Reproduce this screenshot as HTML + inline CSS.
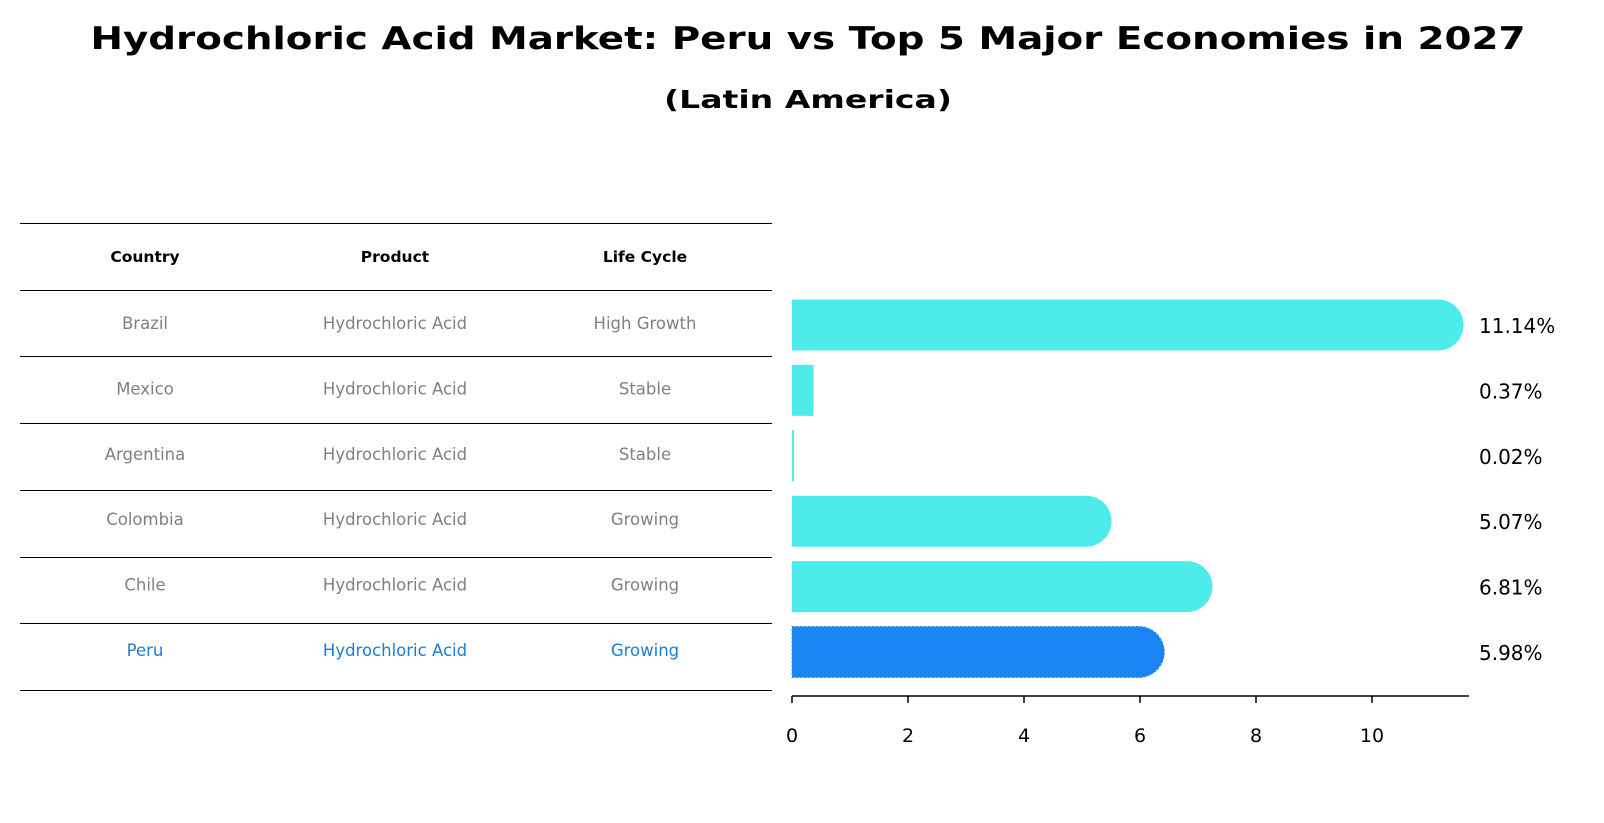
<!DOCTYPE html>
<html><head><meta charset="utf-8"><style>
html,body{margin:0;padding:0;background:#fff;}
svg{display:block;font-family:"DejaVu Sans","Liberation Sans",sans-serif;}
</style></head><body>
<svg id="chart" width="1604" height="823" viewBox="0 0 1604 823">
<text x="808" y="49" text-anchor="middle" font-size="31" font-weight="bold" textLength="1435" lengthAdjust="spacingAndGlyphs">Hydrochloric Acid Market: Peru vs Top 5 Major Economies in 2027</text>
<text x="808" y="108" text-anchor="middle" font-size="25" font-weight="bold" textLength="288" lengthAdjust="spacingAndGlyphs">(Latin America)</text>
<g id="table"></g>
<g id="bars"></g>
<g id="axis"></g>
</svg>
<script>
const countries = ["Brazil","Mexico","Argentina","Colombia","Chile","Peru"];
const products = ["Hydrochloric Acid","Hydrochloric Acid","Hydrochloric Acid","Hydrochloric Acid","Hydrochloric Acid","Hydrochloric Acid"];
const lifeCycles = ["High Growth","Stable","Stable","Growing","Growing","Growing"];
const values = [11.14,0.37,0.02,5.07,6.81,5.98];
const ticks = [0,2,4,6,8,10];

const NS="http://www.w3.org/2000/svg";
function mk(tag,attrs,parent){const e=document.createElementNS(NS,tag);for(const k in attrs)e.setAttribute(k,attrs[k]);parent.appendChild(e);return e;}
const x0=792, unit=58.0;
function xs(v){return x0+v*unit;}
const rowY0=325, rowStep=65.4;
function ys(i){return rowY0+i*rowStep;}

// table
const tbl=document.getElementById('table');
const lineYs=[223,290,356,423,490,557,623,690];
lineYs.forEach((y,i)=>{
  const l=mk('line',{x1:20,x2:772,y1:y+0.5,y2:y+0.5,stroke:'#000','stroke-width':1},tbl);
  
  
});
const colX=[145,395,645];
["Country","Product","Life Cycle"].forEach((h,j)=>{
  const t=mk('text',{x:colX[j],y:262,'text-anchor':'middle','font-size':15.5,'font-weight':'bold'},tbl);
  t.textContent=h;
  
  
});
countries.forEach((c,i)=>{
  const y=ys(i)+4;
  const col=c==="Peru"?'#1a7fd4':'#808080';
  [c,products[i],lifeCycles[i]].forEach((v,j)=>{
    const t=mk('text',{x:colX[j],y:y,'text-anchor':'middle','font-size':16.5,fill:col},tbl);
    t.textContent=v;
    
    
  });
});

// bars
const bars=document.getElementById('bars');
const h=51, r=25.5;
values.forEach((v,i)=>{
  const cy=ys(i), top=cy-h/2, xe=xs(v);
  const isPeru=countries[i]==="Peru";
  const fill=isPeru?'#1a84f5':'#4deceb';
  let d;
  if(v*unit<2){d=`M${x0},${top}H${x0+2}V${top+h}H${x0}Z`;}
  else if(v*unit<r){d=`M${x0},${top}H${xe}V${top+h}H${x0}Z`;}
  else{d=`M${x0},${top}H${xe}A${r},${r} 0 0 1 ${xe},${top+h}H${x0}Z`;}
  const p=mk('path',{d:d,fill:fill},bars);
  if(isPeru){p.setAttribute('stroke','#3a8fe0');p.setAttribute('stroke-dasharray','2 2');p.setAttribute('stroke-width','1');}
  
  
  const t=mk('text',{x:1479,y:cy+8,'font-size':20},bars);
  t.textContent=v.toFixed(2)+'%';
  
  
});

// axis
const ax=document.getElementById('axis');
const al=mk('line',{x1:x0,x2:1469,y1:696,y2:696,stroke:'#000','stroke-width':1.5},ax);


ticks.forEach(tv=>{
  const tl=mk('line',{x1:xs(tv),x2:xs(tv),y1:696,y2:703,stroke:'#000','stroke-width':1.5},ax);
  
  
  const t=mk('text',{x:xs(tv),y:742,'text-anchor':'middle','font-size':19},ax);
  t.textContent=tv;
  
  
});
</script>
</body></html>
